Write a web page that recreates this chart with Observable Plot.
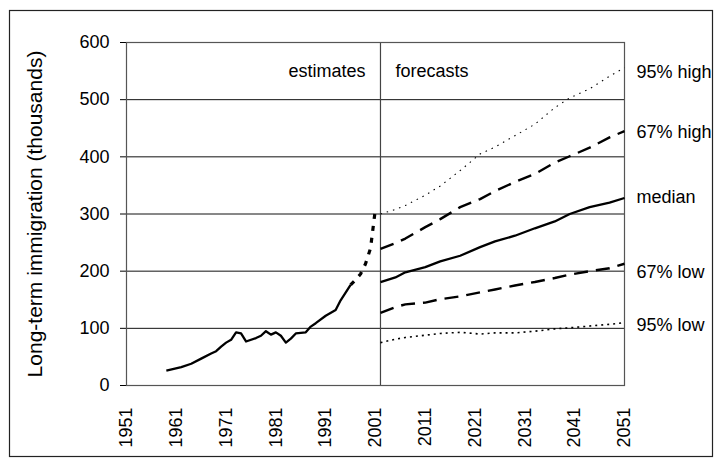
<!DOCTYPE html>
<html><head><meta charset="utf-8">
<script src="https://cdn.jsdelivr.net/npm/d3@7"></script>
<script src="https://cdn.jsdelivr.net/npm/@observablehq/plot@0.6"></script>
<style>
body{margin:0;background:#fff;}
</style></head><body>
<div id="wrap"></div>
<script>
// Estimates (solid part)
const estimateYears = [1959,1962,1964,1966,1968,1969,1970,1971,1972,1973,1974,1975,1977,1978,1979,1980,1981,1982,1983,1984,1985,1987,1988,1989,1991,1993,1994,1996];
const estimateValues = [26,32,38,47,56,60,68,75,80,93,91,77,83,87,95,89,93,87,75,82,91,93,103,109,122,132,149,176];
// Estimates (provisional, heavy dotted part)
const provisionalYears = [1996,1997,1998,1999,2000,2001];
const provisionalValues = [176,185,195,213,240,310];
// Forecasts
const forecastYears = [2002,2005,2007,2011,2014,2018,2022,2025,2029,2033,2037,2040,2044,2048,2051];
const high95 = [300,308,315,333,349,376,405,417,437,457,486,503,519,541,556];
const high67 = [239,249,257,277,291,312,326,340,356,370,390,401,416,434,445];
const median = [181,189,198,207,217,227,242,252,262,275,287,300,312,320,328];
const low67  = [127,137,142,145,151,156,163,168,175,181,188,194,200,205,213];
const low95  = [75,81,84,88,91,93,90,92,92,95,99,101,104,107,110];
// Labels
const seriesNames = ["95% high","67% high","median","67% low","95% low"];
const seriesLabelY = [548,443,330,199,105];
const xTicks = [1951,1961,1971,1981,1991,2001,2011,2021,2031,2041,2051];
const yTicks = [0,100,200,300,400,500,600];
const gridValues = [100,200,300,400,500];
const forecastStart = 2002;

const toRows = (xs, ys) => xs.map((x, i) => ({x, y: ys[i]}));
const lineStyle = {x: "x", y: "y", stroke: "#000", strokeLinecap: "butt", strokeLinejoin: "round"};

const chart = Plot.plot({
  width: 721, height: 465,
  marginLeft: 126, marginRight: 97, marginTop: 42, marginBottom: 80,
  style: {fontFamily: "'Liberation Sans', Arial, sans-serif", fontSize: "18px", color: "#000", background: "#fff"},
  x: {domain: [1951, 2051], ticks: xTicks, tickFormat: d => String(d), tickRotate: -90, tickSize: 0, tickPadding: 22, label: null},
  y: {domain: [0, 600], ticks: yTicks, tickSize: 6, tickPadding: 11, label: null},
  marks: [
    Plot.ruleY(gridValues, {stroke: "#111", strokeWidth: 1}),
    Plot.ruleX([forecastStart], {stroke: "#444", strokeWidth: 1.2}),
    Plot.frame({stroke: "#555", strokeWidth: 1.2}),
    Plot.line(toRows(estimateYears, estimateValues), {...lineStyle, strokeWidth: 2.3}),
    Plot.line(toRows(provisionalYears, provisionalValues), {...lineStyle, strokeWidth: 3.2, strokeDasharray: "5,7"}),
    Plot.line(toRows(forecastYears, high95), {...lineStyle, strokeWidth: 1.1, strokeDasharray: "1.5,5"}),
    Plot.line(toRows(forecastYears, high67), {...lineStyle, strokeWidth: 2.4, strokeDasharray: "14,8"}),
    Plot.line(toRows(forecastYears, median), {...lineStyle, strokeWidth: 2.3}),
    Plot.line(toRows(forecastYears, low67), {...lineStyle, strokeWidth: 2.4, strokeDasharray: "14,8"}),
    Plot.line(toRows(forecastYears, low95), {...lineStyle, strokeWidth: 1.6, strokeDasharray: "2,4"}),
    Plot.text(seriesNames, {x: () => 2051, y: (d, i) => seriesLabelY[i], text: d => d, dx: 12, textAnchor: "start", fill: "#000"}),
    Plot.text(["estimates"], {x: () => 1999, y: () => 549, text: d => d, textAnchor: "end", fill: "#000"}),
    Plot.text(["forecasts"], {x: () => 2005, y: () => 549, text: d => d, textAnchor: "start", fill: "#000"}),
    Plot.text(["Long-term immigration (thousands)"], {frameAnchor: "left", dx: -91, rotate: -90, textAnchor: "middle", text: d => d, fontSize: 21, fill: "#000"})
  ]
});
// outer chart-area border (decoration, drawn inside the SVG)
d3.select(chart).insert("rect", ":first-child")
  .attr("x", 9.5).attr("y", 10.5).attr("width", 703).attr("height", 446)
  .attr("fill", "none").attr("stroke", "#222").attr("stroke-width", 1.2);
document.getElementById("wrap").appendChild(chart);
</script>
</body></html>
